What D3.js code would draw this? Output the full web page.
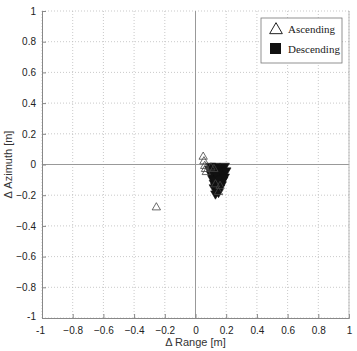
<!DOCTYPE html>
<html><head><meta charset="utf-8">
<script src="https://cdn.jsdelivr.net/npm/d3@7/dist/d3.min.js"></script>
<style>body{margin:0;background:#fff}svg{display:block}</style>
</head><body><svg id="c" width="357" height="351"></svg>
<script>
const ticks = [-1,-0.8,-0.6,-0.4,-0.2,0,0.2,0.4,0.6,0.8,1];
const ascX = [0.05,0.055,0.06,0.065,0.07,0.1,0.12,-0.255];
const ascY = [0.05,0.02,-0.01,-0.03,-0.05,-0.02,-0.03,-0.28];
const descX = [0.1,0.13,0.16,0.19,0.11,0.14,0.17,0.12,0.15,0.18,0.11,0.14,0.17,0.12,0.15,0.13,0.16,0.12,0.14,0.15,0.13,0.1,0.09,0.18,0.16,0.14,0.12,0.15,0.13,0.17,0.2,0.19];
const descY = [-0.01,-0.01,-0.02,-0.01,-0.04,-0.04,-0.05,-0.07,-0.07,-0.06,-0.09,-0.1,-0.09,-0.12,-0.12,-0.14,-0.15,-0.15,-0.17,-0.18,-0.19,-0.06,-0.03,-0.1,-0.03,-0.02,-0.1,-0.09,-0.05,-0.13,-0.04,-0.08];
const ascExtraX = [0.13,0.16,0.15];
const ascExtraY = [-0.13,-0.14,-0.18];

const svg = d3.select('#c');
const L=42,R=349,T=11,B=318;
const x = d3.scaleLinear().domain([-1,1]).range([L,R]);
const y = d3.scaleLinear().domain([-1,1]).range([B,T]);
const tfmt = d => d===0?'0':(Math.abs(d)===1?String(d):d3.format('.1f')(d));

const g = svg.append('g');
ticks.forEach(t=>{
  if(t===0) return;
  g.append('line').attr('x1',x(t)).attr('x2',x(t)).attr('y1',T).attr('y2',B)
   .attr('stroke','#bbb').attr('stroke-width',0.8).attr('stroke-dasharray','1,2');
  g.append('line').attr('x1',L).attr('x2',R).attr('y1',y(t)).attr('y2',y(t))
   .attr('stroke','#bbb').attr('stroke-width',0.8).attr('stroke-dasharray','1,2');
});
svg.append('line').attr('x1',x(0)).attr('x2',x(0)).attr('y1',T).attr('y2',B).attr('stroke','#999').attr('stroke-width',1);
svg.append('line').attr('x1',L).attr('x2',R).attr('y1',y(0)).attr('y2',y(0)).attr('stroke','#999').attr('stroke-width',1);

const xa = svg.append('g').attr('transform',`translate(0,${B})`)
  .call(d3.axisBottom(x).tickValues(ticks).tickFormat(tfmt).tickSize(-4).tickPadding(9));
const ya = svg.append('g').attr('transform',`translate(${L},0)`)
  .call(d3.axisLeft(y).tickValues(ticks).tickFormat(tfmt).tickSize(-4).tickPadding(6));
[xa,ya].forEach(a=>{
  a.selectAll('path').attr('stroke','#888').attr('stroke-width',1);
  a.selectAll('line').attr('stroke','#888');
  a.selectAll('text').attr('font-family','Liberation Sans, Arial, sans-serif').attr('font-size',10).attr('fill','#222');
});
xa.selectAll('.tick').filter(d=>d===-1).select('text').attr('dx','-2');
ya.selectAll('.tick').filter(d=>d===-1).select('text').attr('dy','0.1em');
svg.append('line').attr('x1',R).attr('x2',R).attr('y1',T).attr('y2',B).attr('stroke','#aaa').attr('stroke-width',0.8);

svg.append('text').attr('x',(L+R)/2).attr('y',346).attr('text-anchor','middle')
  .attr('font-family','Liberation Sans, Arial, sans-serif').attr('font-size',11).attr('fill','#333').text('Δ Range [m]');
svg.append('text').attr('transform',`translate(12,${(T+B)/2}) rotate(-90)`).attr('text-anchor','middle')
  .attr('font-family','Liberation Sans, Arial, sans-serif').attr('font-size',11).attr('fill','#333').text('Δ Azimuth [m]');

const tri = d3.symbol().type(d3.symbolTriangle).size(30);
const triDown = d3.symbol().type(d3.symbolTriangle).size(40);
svg.append('g').selectAll('path').data(descX.map((v,i)=>[v,descY[i]])).join('path')
  .attr('d',triDown).attr('transform',d=>`translate(${x(d[0])},${y(d[1])}) rotate(180)`)
  .attr('fill','#111').attr('stroke','#111').attr('stroke-width',0.6);
svg.append('g').selectAll('path').data(ascX.map((v,i)=>[v,ascY[i]]).concat(ascExtraX.map((v,i)=>[v,ascExtraY[i]]))).join('path')
  .attr('d',tri).attr('transform',d=>`translate(${x(d[0])},${y(d[1])})`)
  .attr('fill','none').attr('stroke','#444').attr('stroke-width',0.8);

const lg = svg.append('g');
lg.append('rect').attr('x',261).attr('y',18).attr('width',81).attr('height',45).attr('fill','#fff').attr('stroke','#777').attr('stroke-width',0.8);
lg.append('path').attr('d',d3.symbol().type(d3.symbolTriangle).size(70)).attr('transform','translate(276,30)')
  .attr('fill','#fff').attr('stroke','#222').attr('stroke-width',1);
lg.append('rect').attr('x',270).attr('y',43).attr('width',11).attr('height',11).attr('fill','#111');
lg.append('text').attr('x',288).attr('y',33).attr('font-family','Liberation Serif, Times New Roman, serif').attr('font-size',11).attr('fill','#222').text('Ascending');
lg.append('text').attr('x',288).attr('y',53).attr('font-family','Liberation Serif, Times New Roman, serif').attr('font-size',11).attr('fill','#222').text('Descending');
</script></body></html>
